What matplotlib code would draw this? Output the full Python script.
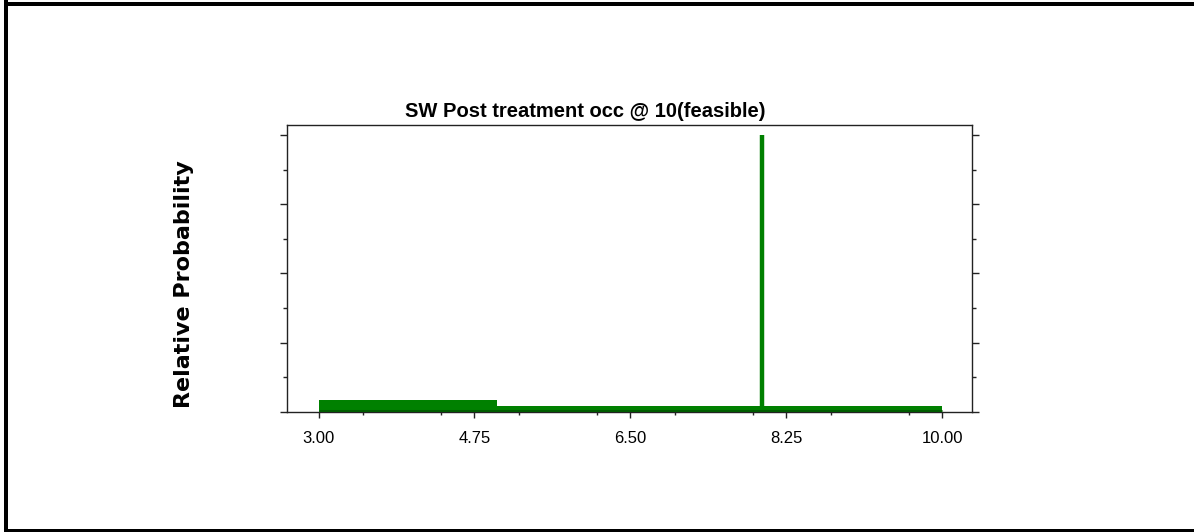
import numpy as np
import matplotlib
matplotlib.use('Agg')
import matplotlib.pyplot as plt
from matplotlib.patches import Rectangle
from matplotlib.ticker import MultipleLocator

# step distribution
edges = [3.0, 5.0, 10.0]
heights = [0.043, 0.022]
spike_x = 7.98
spike_h = 1.0
xticks = [3.00, 4.75, 6.50, 8.25, 10.00]
xticklabels = ['3.00', '4.75', '6.50', '8.25', '10.00']

title = 'SW Post treatment occ @ 10(feasible)'
ylabel = 'Relative Probability'

fig = plt.figure(figsize=(11.94, 5.32), dpi=100)
ax = fig.add_axes([0.2404, 0.2261, 0.5733, 0.5389])

green = '#008000'
dark = '#005c00'

xs = np.array(edges)
ys = np.array(heights + [heights[-1]])
ax.fill_between(xs, 0, ys, step='post', color=green, linewidth=0, zorder=2)
ax.plot([edges[0], edges[-1]], [0.004, 0.004], color=dark, lw=2.2, solid_capstyle='butt', zorder=3)
ax.plot([spike_x, spike_x], [0, spike_h], color=green, lw=3.2, solid_capstyle='butt', zorder=2)

ax.set_xlim(2.646, 10.331)
ax.set_ylim(0, 1.036)
ax.set_xticks(xticks)
ax.set_xticklabels(xticklabels, fontfamily='Liberation Sans', fontsize=12)
ax.xaxis.set_minor_locator(MultipleLocator(0.875))
ax.yaxis.set_major_locator(MultipleLocator(0.25))
ax.yaxis.set_minor_locator(MultipleLocator(0.125))
ax.set_yticklabels([])
ax.tick_params(axis='x', which='major', length=4, width=1, pad=10, colors='#222222', labelcolor='black')
ax.tick_params(axis='x', which='minor', length=2, width=1, colors='#222222')
ax.tick_params(axis='y', which='major', length=5, width=1, left=True, right=True, colors='#222222')
ax.tick_params(axis='y', which='minor', length=3, width=1, left=True, right=True, colors='#222222')
for s in ax.spines.values():
    s.set_linewidth(1)
    s.set_color('#222222')

fig.text(0.49, 0.79, title, ha='center', va='center', fontsize=14.5,
         fontweight='bold', fontfamily='Liberation Sans')
fig.text(0.154, 0.466, ylabel, rotation=90, ha='center', va='center',
         fontsize=16, fontweight='bold', fontfamily='DejaVu Sans')

# frame around the figure (no right edge)
fig.add_artist(Rectangle((4 / 1194, 0), 4 / 1194, 1, transform=fig.transFigure, color='black', lw=0))
fig.add_artist(Rectangle((4 / 1194, 1 - 6 / 532), 1, 4 / 532, transform=fig.transFigure, color='black', lw=0))
fig.add_artist(Rectangle((4 / 1194, 0), 1, 3 / 532, transform=fig.transFigure, color='black', lw=0))

fig.savefig('out.png', dpi=100, facecolor='white')
